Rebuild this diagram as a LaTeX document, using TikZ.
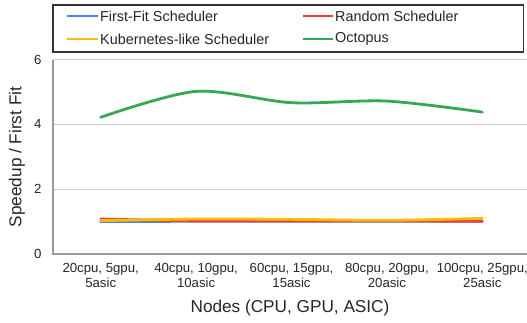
\documentclass[tikz,border=0pt]{standalone}
\usepackage{fontspec}
\setmainfont{Liberation Sans}
\begin{document}
\begin{tikzpicture}[x=1pt,y=-1pt,
  ticklab/.style={font=\fontsize{13.2}{15}\selectfont, text=black!85},
  axtitle/.style={font=\fontsize{17.2}{20}\selectfont, text=black!85},
  legtext/.style={font=\fontsize{14.4}{17}\selectfont, text=black!85, anchor=west, inner sep=0pt},
  grid/.style={draw=black!20, line width=1.2pt},
  axis/.style={draw=black!40, line width=1.2pt},
  series/.style={line width=2.8pt, line cap=round, line join=round},
]
\definecolor{ffblue}{HTML}{4285F4}
\definecolor{rndred}{HTML}{EA4335}
\definecolor{k8yellow}{HTML}{FBBC04}
\definecolor{octgreen}{HTML}{34A853}
\useasboundingbox (0,0) rectangle (527,322);

% value -> y position: 0 at 254, 32.4 per unit
\def\yv#1{254-32.4*#1}

% grid lines
\foreach \v in {2,4,6} \draw[grid] (53,{\yv{\v}}) -- (530,{\yv{\v}});
% axes
\draw[axis] (53,{\yv{6}}) -- (53,254) -- (530,254);

% y tick labels
\foreach \v in {0,2,4,6}
  \node[ticklab, anchor=east] (ytick\v) at (45,{\yv{\v}}) {\v};

% y axis title
\node[axtitle, rotate=90] (ytitle) at (17,157) {Speedup / First Fit};

% x tick labels
\foreach \x/\a/\b [count=\i] in {100.7/{20cpu, 5gpu,}/5asic, 196.1/{40cpu, 10gpu,}/10asic, 291.5/{60cpu, 15gpu,}/15asic, 386.9/{80cpu, 20gpu,}/20asic, 482.3/{100cpu, 25gpu,}/25asic}
  \node[ticklab, align=center, anchor=north, inner sep=0pt] (xtick\i) at (\x,263) {\a\\\b};

% x axis title
\node[axtitle] (xtitle) at (290,308) {Nodes (CPU, GPU, ASIC)};

% data series
\draw[series, ffblue] plot[smooth, tension=0.5] coordinates {
  (100.7,{\yv{1.00}}) (196.1,{\yv{1.01}}) (291.5,{\yv{1.01}}) (386.9,{\yv{1.01}}) (482.3,{\yv{1.01}})};
\draw[series, rndred] plot[smooth, tension=0.5] coordinates {
  (100.7,{\yv{1.08}}) (196.1,{\yv{1.02}}) (291.5,{\yv{1.02}}) (386.9,{\yv{1.02}}) (482.3,{\yv{1.01}})};
\draw[series, k8yellow] plot[smooth, tension=0.5] coordinates {
  (100.7,{\yv{1.03}}) (196.1,{\yv{1.08}}) (291.5,{\yv{1.07}}) (386.9,{\yv{1.04}}) (482.3,{\yv{1.10}})};
\draw[series, octgreen] plot[smooth, tension=0.5] coordinates {
  (100.7,{\yv{4.22}}) (196.1,{\yv{5.02}}) (291.5,{\yv{4.67}}) (386.9,{\yv{4.72}}) (482.3,{\yv{4.38}})};

% legend
\draw[black!80, line width=1.2pt, fill=white] (53,5) rectangle (523.5,52);
\draw[series, line cap=butt, ffblue] (67,16) -- (98,16);
\node[legtext] (legff) at (100,16) {First-Fit Scheduler};
\draw[series, line cap=butt, rndred] (303,16) -- (333,16);
\node[legtext] (legrnd) at (335,16) {Random Scheduler};
\draw[series, line cap=butt, k8yellow] (67,39) -- (98,39);
\node[legtext] (legk8) at (100,39) {Kubernetes-like Scheduler};
\draw[series, line cap=butt, octgreen] (303,39) -- (333,39);
\node[legtext] (legoct) at (335,39) {Octopus};
\end{tikzpicture}
\end{document}
